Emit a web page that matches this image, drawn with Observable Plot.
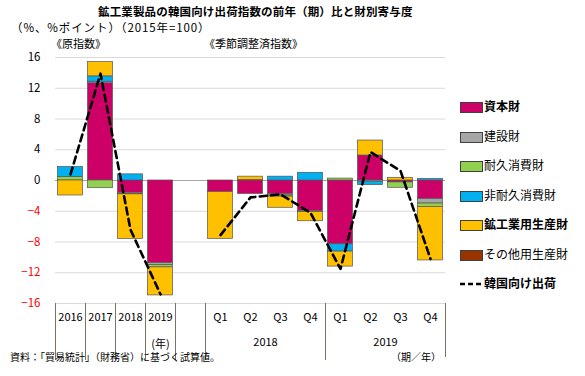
<!DOCTYPE html>
<html>
<head>
<meta charset="utf-8">
<script src="https://cdn.jsdelivr.net/npm/d3@7"></script>
<script src="https://cdn.jsdelivr.net/npm/@observablehq/plot@0.6"></script>
<style>
  body { margin: 0; background: #fff; }
  #wrap { position: relative; width: 585px; height: 376px; font-family: "Noto Sans CJK JP", sans-serif; color: #000; }
  #wrap svg { position: absolute; left: 0; top: 0; }
  .t { position: absolute; white-space: nowrap; line-height: 1; }
  .sw { position: absolute; width: 21px; height: 9px; border: 1px solid #404040; }
</style>
</head>
<body>
<div id="wrap"></div>
<script>
// ---------- data ----------
const categories = ["2016","2017","2018","2019","gap","2018Q1","2018Q2","2018Q3","2018Q4","2019Q1","2019Q2","2019Q3","2019Q4"];
const tickLabels = ["2016","2017","2018","2019","","Q1","Q2","Q3","Q4","Q1","Q2","Q3","Q4"];
const seriesNames = ["資本財","建設財","耐久消費財","非耐久消費財","鉱工業用生産財","その他用生産財"];
const seriesColors = ["#CC0066","#A6A6A6","#92D050","#00B0F0","#FFC000","#993300"];
const capitalGoods      = [0,     12.65, -1.6,  -10.75, null, -1.5, -1.75, -1.75, -4.0, -8.3,  3.25, -0.25, -2.4];
const constructionGoods = [0,     0.2,   -0.15, -0.25,  null, 0,    0,     -0.2,  0,    0,     -0.15, 0,     -0.6];
const durableGoods      = [0.45,  -1.0,  -0.05, -0.3,   null, 0,    0,     -0.15, -0.1, 0.25,  0,     -0.7,  -0.45];
const nondurableGoods   = [1.3,   0.7,   0.8,   0,      null, 0,    0.05,  0.5,   1.0,  -0.95, -0.45, 0,     0.2];
const producerGoods     = [-1.95, 1.85,  -5.8,  -3.65,  null, -6.1, 0.45,  -1.45, -1.2, -1.95, 1.95,  0.35,  -6.95];
const otherProducer     = [0,     0,     0,     0,      null, 0,    0,     0,     0,    0,     0,     0,     0];
const koreaShipments    = [0.8,   13.9,  -6.4,  -14.8,  null, -7.1, -2.2,  -1.8,  -4.2, -11.5, 3.7,   1.25,  -10.2];
const yTicks = [-16,-12,-8,-4,0,4,8,12,16];
const lineName = "韓国向け出荷";

// ---------- build ----------
const seriesValues = [capitalGoods, constructionGoods, durableGoods, nondurableGoods, producerGoods, otherProducer];
const rows = [];
seriesValues.forEach((vals, i) => {
  vals.forEach((v, j) => {
    if (v != null && v !== 0) rows.push({cat: categories[j], series: seriesNames[i], value: v, color: seriesColors[i]});
  });
});
const lineRows = categories.map((c, j) => ({cat: c, value: koreaShipments[j]}));
const labelOf = new Map(categories.map((c, j) => [c, tickLabels[j]]));

const W = 585, H = 376, ML = 55, MR = 140, MT = 57, MB = 73;
const bw = (W - ML - MR) / categories.length;
const leftEdges = ["2016","2017","2018","2019","gap","2018Q1","2019Q1"];
const rightEdges = ["2019Q4"];
const sepColor = "#7a7262";

const chart = Plot.plot({
  width: W, height: H,
  marginLeft: ML, marginRight: MR, marginTop: MT, marginBottom: MB,
  style: {fontFamily: "'Noto Sans CJK JP', sans-serif", fontSize: "11px", background: "transparent"},
  x: {type: "band", domain: categories, padding: 0, axis: null},
  y: {domain: [-16, 16], axis: null},
  color: {type: "identity"},
  marks: [
    Plot.gridY(yTicks, {stroke: "#d9d9d9", strokeOpacity: 1, strokeWidth: 1}),
    Plot.axisY(yTicks.filter(d => d >= 0), {tickSize: 0, tickPadding: 15, fill: "#000", fontSize: 11.5, label: null}),
    Plot.axisY(yTicks.filter(d => d < 0), {tickSize: 0, tickPadding: 15, fill: "#ff0000", fontSize: 11.5, label: null}),
    Plot.axisX({tickSize: 0, tickPadding: 10, tickFormat: d => labelOf.get(d), fontSize: 11, label: null}),
    Plot.ruleX(leftEdges, {x: d => d, dx: -bw / 2, y1: yTicks[0], y2: yTicks[0], insetBottom: -57, stroke: sepColor, strokeWidth: 1}),
    Plot.ruleX(rightEdges, {x: d => d, dx: bw / 2, y1: yTicks[0], y2: yTicks[0], insetBottom: -54, stroke: sepColor, strokeWidth: 1}),
    Plot.ruleY([0], {stroke: "#a6a6a6", strokeWidth: 1}),
    Plot.barY(rows, {x: "cat", y: "value", fill: "color", stroke: "#555", strokeWidth: 0.7, insetLeft: 2.5, insetRight: 2.5, order: null}),
    Plot.line(lineRows, {x: "cat", y: "value", stroke: "#000", strokeWidth: 2.6, strokeDasharray: "7,4.5", defined: d => d.value != null}),
    Plot.text([{cat: "2018Q2", label: "2018"}, {cat: "2019Q2", label: "2019"}], {x: "cat", text: "label", frameAnchor: "bottom", dx: bw / 2, dy: 42, fontSize: 11}),
    Plot.text([{cat: "2019", label: "(年)"}], {x: "cat", text: "label", frameAnchor: "bottom", dy: 44, fontSize: 11})
  ]
});

const wrap = document.getElementById("wrap");
wrap.appendChild(chart);

function addText(txt, left, centerY, size, opts = {}) {
  const d = document.createElement("div");
  d.className = "t";
  d.textContent = txt;
  d.style.left = left + "px";
  d.style.top = (centerY - size / 2 - 1) + "px";
  d.style.fontSize = size + "px";
  if (opts.bold) d.style.fontWeight = "bold";
  if (opts.ls) d.style.letterSpacing = opts.ls + "px";
  wrap.appendChild(d);
  return d;
}

addText("鉱工業製品の韓国向け出荷指数の前年（期）比と財別寄与度", 98, 13, 11.5, {bold: true, ls: 0.15});
addText("（%、%ポイント）（2015年=100）", 11, 28.5, 11.5, {ls: 0.9});
addText("《原指数》", 51, 44, 11);
addText("《季節調整済指数》", 204, 44, 11);
addText("資料：「貿易統計」（財務省）に基づく試算値。", 10, 358, 10);
addText("（期／年）", 391, 358, 10);

// legend
const legendTop = 107, legendStep = 29.5;
const boldItems = new Set(["資本財", "鉱工業用生産財", lineName]);
seriesNames.forEach((name, i) => {
  const cy = legendTop + i * legendStep;
  const s = document.createElement("div");
  s.className = "sw";
  s.style.left = "460px";
  s.style.top = (cy - 5) + "px";
  s.style.background = seriesColors[i];
  wrap.appendChild(s);
  addText(name, 484, cy, 12, {bold: boldItems.has(name)});
});
{
  const cy = legendTop + seriesNames.length * legendStep;
  const svgNS = "http://www.w3.org/2000/svg";
  const ls = document.createElementNS(svgNS, "svg");
  ls.setAttribute("width", 24); ls.setAttribute("height", 6);
  ls.style.position = "absolute"; ls.style.left = "459px"; ls.style.top = (cy - 3) + "px";
  const ln = document.createElementNS(svgNS, "line");
  ln.setAttribute("x1", 1); ln.setAttribute("x2", 24); ln.setAttribute("y1", 3); ln.setAttribute("y2", 3);
  ln.setAttribute("stroke", "#000"); ln.setAttribute("stroke-width", 2.6); ln.setAttribute("stroke-dasharray", "5,3");
  ls.appendChild(ln);
  wrap.appendChild(ls);
  addText(lineName, 484, cy, 12, {bold: true});
}
</script>
</body>
</html>
